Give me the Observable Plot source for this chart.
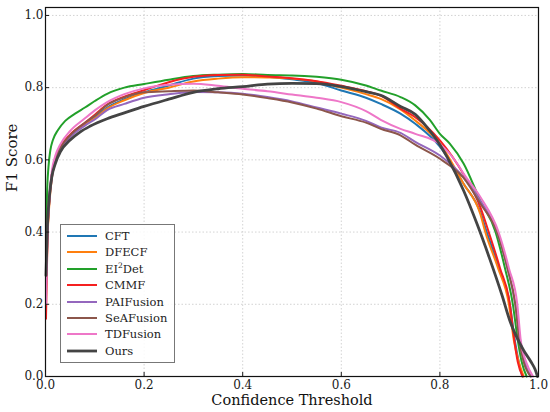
<!DOCTYPE html>
<html><head><meta charset="utf-8">
<script src="https://cdn.jsdelivr.net/npm/d3@7"></script>
<script src="https://cdn.jsdelivr.net/npm/@observablehq/plot@0.6"></script>
<style>
body{margin:0;background:#fff;}
#wrap{position:relative;width:550px;height:412px;font-family:"DejaVu Serif",serif;}
#legend{position:absolute;left:60px;top:224px;width:115px;height:139px;border:1px solid #777;background:rgba(255,255,255,0.85);box-sizing:border-box;}
.item{position:absolute;left:6px;height:16px;display:flex;align-items:center;font-size:11.5px;color:#222;white-space:nowrap;}
.item svg{margin-right:8px;}
sup{font-size:7.5px;}
</style></head><body><div id="wrap"><div id="chart"></div><div id="legend"></div></div>
<script>
const xTicks = [0, 0.2, 0.4, 0.6, 0.8, 1.0];
const yTicks = [0, 0.2, 0.4, 0.6, 0.8, 1.0];

const cft = [[0.001,0.25],[0.004,0.4],[0.008,0.5],[0.013,0.56],[0.02,0.6],[0.03,0.632],[0.05,0.668],[0.08,0.7],[0.1,0.718],[0.125,0.745],[0.16,0.768],[0.2,0.787],[0.25,0.806],[0.3,0.825],[0.35,0.832],[0.4,0.834],[0.45,0.83],[0.5,0.823],[0.55,0.813],[0.6,0.792],[0.65,0.772],[0.68,0.755],[0.72,0.728],[0.75,0.70],[0.8,0.637],[0.848,0.534],[0.882,0.455],[0.895,0.40],[0.92,0.3],[0.942,0.2],[0.952,0.1],[0.96,0.04],[0.967,0]];
const dfecf = [[0.001,0.22],[0.004,0.38],[0.008,0.48],[0.013,0.55],[0.02,0.595],[0.03,0.628],[0.05,0.665],[0.08,0.698],[0.1,0.715],[0.125,0.742],[0.16,0.765],[0.2,0.785],[0.25,0.80],[0.3,0.817],[0.35,0.825],[0.4,0.829],[0.45,0.828],[0.5,0.825],[0.55,0.817],[0.6,0.8],[0.65,0.782],[0.68,0.769],[0.72,0.74],[0.75,0.709],[0.8,0.645],[0.848,0.534],[0.882,0.45],[0.892,0.4],[0.918,0.3],[0.94,0.2],[0.95,0.1],[0.96,0.04],[0.97,0]];
const ei2det = [[0.001,0.33],[0.003,0.5],[0.006,0.58],[0.01,0.628],[0.015,0.655],[0.025,0.682],[0.04,0.708],[0.06,0.728],[0.08,0.745],[0.1,0.763],[0.125,0.783],[0.16,0.8],[0.2,0.81],[0.25,0.822],[0.3,0.832],[0.35,0.836],[0.4,0.838],[0.45,0.835],[0.5,0.834],[0.55,0.83],[0.6,0.822],[0.65,0.806],[0.68,0.792],[0.72,0.774],[0.75,0.751],[0.78,0.71],[0.8,0.672],[0.82,0.645],[0.848,0.59],[0.882,0.487],[0.913,0.4],[0.932,0.3],[0.948,0.2],[0.958,0.1],[0.966,0.04],[0.976,0]];
const cmmf = [[0.001,0.16],[0.004,0.38],[0.008,0.49],[0.013,0.56],[0.02,0.603],[0.03,0.635],[0.05,0.67],[0.08,0.703],[0.1,0.725],[0.125,0.753],[0.16,0.775],[0.2,0.793],[0.25,0.815],[0.3,0.83],[0.35,0.835],[0.4,0.836],[0.45,0.831],[0.5,0.826],[0.55,0.818],[0.6,0.805],[0.65,0.79],[0.68,0.778],[0.72,0.742],[0.75,0.718],[0.8,0.654],[0.848,0.56],[0.882,0.469],[0.899,0.4],[0.922,0.3],[0.942,0.2],[0.95,0.11],[0.958,0.04],[0.968,0]];
const paifusion = [[0.001,0.25],[0.004,0.4],[0.008,0.49],[0.013,0.55],[0.02,0.597],[0.03,0.628],[0.05,0.663],[0.08,0.695],[0.1,0.712],[0.125,0.738],[0.16,0.755],[0.2,0.772],[0.25,0.782],[0.3,0.788],[0.35,0.787],[0.4,0.783],[0.45,0.774],[0.5,0.762],[0.55,0.745],[0.6,0.728],[0.65,0.708],[0.68,0.69],[0.72,0.675],[0.75,0.65],[0.8,0.612],[0.848,0.552],[0.882,0.487],[0.916,0.4],[0.937,0.3],[0.953,0.2],[0.963,0.1],[0.972,0.04],[0.985,0]];
const seafusion = [[0.001,0.28],[0.004,0.42],[0.008,0.5],[0.013,0.56],[0.02,0.602],[0.03,0.633],[0.05,0.668],[0.08,0.703],[0.1,0.722],[0.125,0.752],[0.16,0.773],[0.2,0.787],[0.25,0.79],[0.3,0.792],[0.35,0.787],[0.4,0.781],[0.45,0.771],[0.5,0.759],[0.55,0.742],[0.6,0.721],[0.65,0.703],[0.68,0.686],[0.72,0.668],[0.75,0.642],[0.8,0.603],[0.848,0.55],[0.882,0.479],[0.916,0.4],[0.937,0.3],[0.953,0.2],[0.961,0.1],[0.97,0.04],[0.984,0]];
const tdfusion = [[0.001,0.2],[0.004,0.4],[0.008,0.5],[0.013,0.57],[0.02,0.612],[0.03,0.643],[0.05,0.68],[0.08,0.715],[0.1,0.737],[0.125,0.76],[0.16,0.782],[0.2,0.798],[0.25,0.808],[0.3,0.811],[0.35,0.805],[0.4,0.797],[0.45,0.79],[0.5,0.781],[0.55,0.772],[0.6,0.76],[0.65,0.735],[0.68,0.711],[0.72,0.686],[0.75,0.672],[0.8,0.643],[0.835,0.59],[0.848,0.562],[0.882,0.497],[0.919,0.4],[0.94,0.3],[0.957,0.2],[0.964,0.1],[0.975,0.04],[0.989,0]];
const ours = [[0.001,0.28],[0.004,0.42],[0.008,0.5],[0.013,0.555],[0.02,0.59],[0.03,0.622],[0.05,0.655],[0.07,0.677],[0.09,0.693],[0.125,0.714],[0.16,0.73],[0.2,0.748],[0.25,0.768],[0.3,0.787],[0.35,0.797],[0.4,0.803],[0.45,0.81],[0.5,0.812],[0.55,0.811],[0.6,0.803],[0.65,0.789],[0.68,0.779],[0.72,0.748],[0.75,0.726],[0.774,0.69],[0.8,0.642],[0.815,0.607],[0.848,0.515],[0.876,0.42],[0.9,0.33],[0.926,0.225],[0.943,0.15],[0.97,0.072],[0.985,0.04],[0.993,0.02],[0.998,0]];

const names = ["CFT","DFECF","EI<sup>2</sup>Det","CMMF","PAIFusion","SeAFusion","TDFusion","Ours"];
const colors = ["#1f77b4","#ff7f0e","#22a02a","#f52020","#9467bd","#8c564b","#ee77c8","#444444"];
const widths = [2,2,2,2,2,2,2,2.8];
const seriesData = [cft, dfecf, ei2det, cmmf, paifusion, seafusion, tdfusion, ours];

const chart = Plot.plot({
  width: 550, height: 412,
  marginLeft: 45, marginRight: 12, marginTop: 7, marginBottom: 36,
  style: {fontFamily: "DejaVu Serif", fontSize: "12px", color: "#1a1a1a", background: "white"},
  x: {domain: [0, 1], label: null},
  y: {domain: [0, 1.022], label: null},
  marks: [
    Plot.gridX(xTicks, {stroke: "#c8c8c8", strokeOpacity: 1, strokeDasharray: "1.5,2", strokeWidth: 0.8}),
    Plot.gridY(yTicks, {stroke: "#c8c8c8", strokeOpacity: 1, strokeDasharray: "1.5,2", strokeWidth: 0.8}),
    ...seriesData.map((d, i) => Plot.line(d, {x: p => p[0], y: p => p[1], stroke: colors[i], strokeWidth: widths[i], curve: "monotone-x"})),
    Plot.frame({stroke: "#111", strokeWidth: 1.2}),
    Plot.axisX(xTicks, {tickSize: -4, tickPadding: 8, tickFormat: d3.format(".1f"), label: null, fontSize: 12}),
    Plot.axisY(yTicks, {tickSize: -4, tickPadding: 6, tickFormat: d3.format(".1f"), label: null, fontSize: 12}),
    Plot.text(["Confidence Threshold"], {frameAnchor: "bottom", dy: 28, fontSize: 14.5, fill: "#111"}),
    Plot.text(["F1 Score"], {frameAnchor: "left", dx: -33, rotate: -90, fontSize: 15, fill: "#111"})
  ]
});
document.getElementById("chart").appendChild(chart);

const legend = document.getElementById("legend");
names.forEach((n, i) => {
  const item = document.createElement("div");
  item.className = "item";
  item.style.top = (3 + i * 16.4) + "px";
  item.innerHTML = `<svg width="30" height="6"><line x1="0" y1="3" x2="30" y2="3" stroke="${colors[i]}" stroke-width="${widths[i]}"/></svg><span>${n}</span>`;
  legend.appendChild(item);
});
</script>
</body></html>
